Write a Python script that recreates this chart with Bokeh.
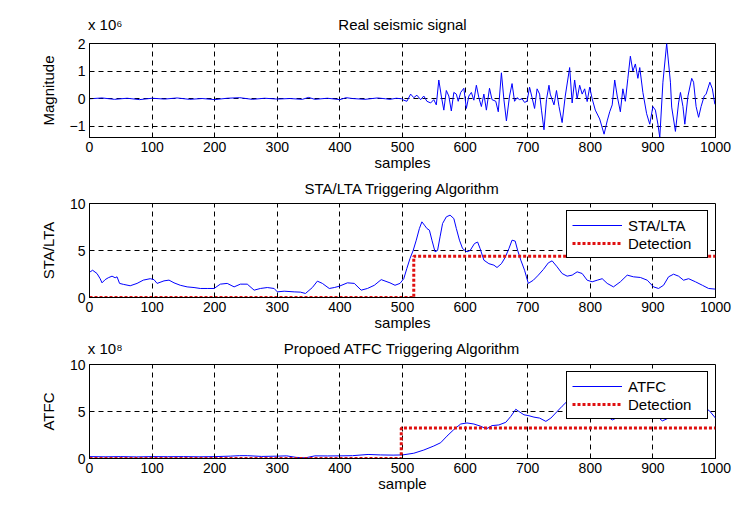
from bokeh.plotting import figure
from bokeh.layouts import column
from bokeh.models import Range1d, Legend, LegendItem, FixedTicker, LinearAxis
from bokeh.embed import file_html
from bokeh.resources import INLINE

FONT = "Liberation Sans"

# ---------------- data ----------------
# Panel 1: real seismic signal (values in units of 1e6)
sig_x = [0, 20, 40, 60, 80, 100, 120, 140, 160, 180, 200, 220, 240, 260, 280, 300,
         320, 340, 350, 360, 380, 400, 410, 420, 440, 460, 473, 480, 490, 499,
         502, 507, 513, 518, 523, 529, 534, 539, 545, 550, 554, 558, 562, 566, 570,
         574, 578, 582, 586, 589, 593, 598, 602, 606, 610, 614, 618, 622, 626, 630,
         634, 639, 643, 649, 653, 658, 662, 666, 671, 675, 679, 683, 687, 691, 695,
         699, 703, 707, 711, 715, 719, 722, 726, 730, 734,
         736, 742, 746, 750, 755, 760, 767, 771, 775, 779, 783, 787, 791, 795, 799,
         803, 808, 815, 822, 827, 831, 835, 839, 843, 848, 852, 856, 860, 864, 868,
         872, 876, 879, 884, 890, 895, 900, 904, 908, 911, 916, 922, 928, 930, 936,
         941, 944, 948, 951, 956, 962, 965, 969, 973, 977, 982, 985, 991, 995, 999]
sig_y = [0.0, 0.03, -0.02, 0.02, -0.03, 0.02, -0.01, 0.03, -0.02, 0.01, -0.03, 0.02,
         0.04, -0.02, 0.02, -0.01, 0.01, -0.02, 0.05, -0.02, 0.02, -0.03, 0.04, 0.01,
         -0.02, 0.03, 0.0, -0.02, 0.02, 0.0,
         -0.05, -0.09, 0.17, 0.04, 0.13, -0.03, 0.1, -0.09, -0.15, -0.03, -0.22, 0.68,
         0.1, -0.41, 0.3, 0.1, -0.44, 0.23, 0.17, -0.09, 0.23, 0.38, -0.35, 0.1, 0.23,
         -0.05, 0.49, 0.04, -0.28, 0.17, -0.41, 0.38, -0.03, -0.09, -0.47, 0.94, -0.03,
         -0.8, 0.1, 0.55, -0.09, 0.04, -0.03, 0.0, -0.13, -0.09, 0.42, 0.04, -0.35,
         0.36, 0.17, -0.41, -1.12, -0.03, 0.49,
         0.17, -0.22, 0.3, -0.28, -0.86, 0.1, 1.13, -0.15, 0.68, 0.0, 0.49, 0.17, 0.36,
         -0.1, 0.42, 0.0, -0.41, -0.73, -1.28, -0.8, -0.47, -0.22, 0.68, 0.1, -0.47,
         0.36, -0.09, 0.74, 1.54, 1.0, 1.26, 0.74, 1.13, 0.23, -0.54, -0.92, -0.28,
         -0.41, -0.92, -1.4, 0.6, 2.0, 0.6, -0.3, -1.18, -0.15, 0.23, -0.28, -0.92,
         0.1, 0.74, 0.6, -0.28, -0.67, -0.28, 0.1, 0.17, 0.6, 0.36, -0.2]

# Panel 2: STA/LTA ratio
sta_x = [1, 5, 12, 17, 20, 25, 30, 36, 41, 44, 48, 54, 65, 76, 86, 97, 103, 108,
         119, 127, 135, 145, 156, 167, 177, 188, 199, 209, 220, 231, 241, 252, 263,
         273, 284, 295, 300, 311, 327, 337, 345, 356, 364, 372, 383, 391, 399, 412,
         423, 434, 444, 455, 466, 480, 488, 496, 502, 507, 512, 517, 522, 527, 531,
         535, 539, 543, 547, 552, 556, 560, 564, 570, 576, 582, 586, 591, 596, 603,
         608, 615, 620, 624, 630, 638, 646, 651, 658, 664, 670, 675, 680, 684, 689,
         695, 698, 701, 709, 717, 725, 733, 739, 747, 755, 763, 771, 779, 787, 795,
         803, 811, 819, 827, 837, 848, 859, 869, 880, 891, 901, 909, 917, 925, 933,
         941, 949, 957, 968, 979, 989, 1000]
sta_y = [2.73, 2.9, 2.55, 2.0, 1.56, 1.9, 2.1, 2.27, 2.1, 2.2, 1.5, 1.4, 1.25, 1.5,
         1.85, 2.0, 1.9, 1.5, 1.77, 1.85, 1.56, 1.3, 1.13, 1.06, 0.96, 0.96, 0.96,
         1.42, 1.5, 1.13, 1.42, 1.42, 0.78, 0.96, 1.06, 0.96, 0.6, 0.67, 0.6, 0.57,
         0.43, 1.06, 1.74, 1.5, 0.96, 1.06, 1.2, 1.56, 1.5, 0.78, 0.96, 1.3, 1.9,
         1.56, 1.3, 1.5, 2.0, 3.1, 4.15, 5.0, 6.1, 7.34, 8.05, 7.7, 7.34, 7.16, 6.1,
         4.86, 5.0, 6.45, 7.87, 8.58, 8.76, 8.4, 7.34, 6.1, 5.2, 4.86, 5.0, 5.74, 5.9,
         5.2, 3.97, 3.6, 3.44, 3.19, 3.6, 4.26, 5.2, 6.1, 6.0, 5.0, 3.97, 2.9, 2.2,
         1.5, 1.84, 2.38, 2.98, 3.69, 3.9, 3.26, 2.55, 2.27, 2.38, 2.73, 2.55, 1.84,
         1.67, 1.84, 2.0, 1.5, 1.13, 1.67, 2.38, 2.2, 2.13, 1.84, 1.13, 0.96, 1.3,
         2.2, 2.48, 2.27, 1.84, 2.0, 1.67, 1.3, 0.96, 0.89]
sta_det_x = [0, 518, 518, 1000]
sta_det_y = [0, 0, 4.4, 4.4]

# Panel 3: ATFC (values in units of 1e8)
atfc_x = [0, 25, 50, 75, 100, 125, 150, 175, 200, 225, 240, 252, 275, 300, 315,
          330, 345, 360, 380, 400, 420, 445, 465, 485, 500, 518, 534, 550, 561, 571,
          582, 593, 603, 614, 625, 634, 643, 654, 665, 673, 681, 686, 694, 702, 710,
          719, 729, 737, 747, 755, 763, 770, 790, 810, 825, 835, 845, 860, 875, 890,
          905, 915, 925, 940, 960, 975, 990, 1000]
atfc_y = [0.2, 0.18, 0.2, 0.17, 0.2, 0.19, 0.2, 0.18, 0.2, 0.25, 0.3, 0.3, 0.22,
          0.25, 0.28, 0.12, 0.07, 0.28, 0.27, 0.28, 0.3, 0.43, 0.38, 0.36, 0.38,
          0.56, 0.9, 1.33, 1.68, 2.38, 3.08, 3.67, 3.78, 3.67, 3.43, 3.15, 3.5, 3.57,
          3.85, 4.48, 5.24, 5.0, 4.65, 4.55, 4.4, 4.3, 3.95, 4.3, 5.0, 5.56, 6.08,
          6.3, 5.8, 5.2, 4.6, 4.1, 4.4, 5.4, 5.8, 5.3, 4.6, 4.0, 4.3, 5.0, 5.5, 5.6,
          5.1, 4.3]
atfc_det_x = [0, 498, 498, 1000]
atfc_det_y = [0, 0, 3.25, 3.25]

x_ticks = [0, 100, 200, 300, 400, 500, 600, 700, 800, 900, 1000]

BLUE = "#0000FF"
RED = "#E01010"


def make_fig(ylim, yticks, title, exponent, xlabel, ylabel, top, bottom, title_standoff):
    p = figure(frame_width=626, frame_height=94,
               x_range=Range1d(0, 1000), y_range=Range1d(*ylim),
               output_backend="svg", toolbar_location=None,
               min_border_left=89, min_border_right=20,
               min_border_top=top, min_border_bottom=bottom)
    p.background_fill_color = "white"
    p.border_fill_color = "white"
    p.outline_line_color = "black"
    p.outline_line_alpha = 1
    p.outline_line_width = 1

    xt = FixedTicker(ticks=x_ticks)
    yt = FixedTicker(ticks=yticks)
    p.xaxis.ticker = xt
    p.yaxis.ticker = yt
    p.xgrid.ticker = xt
    p.ygrid.ticker = yt
    for ax in (p.xaxis[0], p.yaxis[0]):
        ax.major_tick_in = 4
        ax.major_tick_out = 0
        ax.minor_tick_in = 0
        ax.minor_tick_out = 0
        ax.axis_line_color = "black"
        ax.major_tick_line_color = "black"
        ax.major_label_text_font = FONT
        ax.major_label_text_font_size = "14px"
        ax.major_label_text_color = "black"
        ax.axis_label_text_font = FONT
        ax.axis_label_text_font_size = "15px"
        ax.axis_label_text_font_style = "normal"
        ax.axis_label_text_color = "black"
    p.xaxis.axis_label = xlabel
    p.yaxis.axis_label = ylabel
    p.xaxis.major_label_standoff = 4
    p.xaxis.axis_label_standoff = -1
    p.yaxis.major_label_standoff = 4
    p.yaxis.axis_label_standoff = 10
    for g in (p.xgrid[0], p.ygrid[0]):
        g.grid_line_color = "black"
        g.grid_line_alpha = 1
        g.grid_line_dash = "5 4"
        g.grid_line_width = 1

    # title (and the axis-scale exponent) written as labels of a bare axis above
    ticks = [500]
    overrides = {500: title}
    if exponent:
        ticks = [25, 500]
        overrides[25] = exponent
    top_ax = LinearAxis(ticker=FixedTicker(ticks=ticks), major_label_overrides=overrides)
    top_ax.axis_line_color = None
    top_ax.major_tick_line_color = None
    top_ax.minor_tick_line_color = None
    top_ax.major_tick_in = 0
    top_ax.major_tick_out = 0
    top_ax.major_label_standoff = title_standoff
    top_ax.major_label_text_font = FONT
    top_ax.major_label_text_font_size = "15px"
    top_ax.major_label_text_color = "black"
    p.add_layout(top_ax, "above")
    return p


def add_legend(p, items):
    leg = Legend(items=items, location="top_right")
    leg.margin = 7
    leg.padding = 5
    leg.spacing = 0
    leg.glyph_width = 50
    leg.glyph_height = 18
    leg.label_height = 18
    leg.label_width = 74
    leg.label_standoff = 6
    leg.label_text_font = FONT
    leg.label_text_font_size = "15px"
    leg.label_text_color = "black"
    leg.border_line_color = "black"
    leg.border_line_width = 1
    leg.border_line_alpha = 1
    leg.background_fill_color = "white"
    leg.background_fill_alpha = 1
    p.add_layout(leg)


# Panel 1
p1 = make_fig((-1.4, 2), [-1, 0, 1, 2], "Real seismic signal", "x 10\u2076",
              "samples", "Magnitude", 43, 39, 11)
p1.line(sig_x, sig_y, line_color=BLUE, line_width=1)

# Panel 2
p2 = make_fig((0, 10), [0, 5, 10], "STA/LTA Triggering Algorithm", None,
              "samples", "STA/LTA", 27, 39, 7)
r_sta = p2.line(sta_x, sta_y, line_color=BLUE, line_width=1)
r_sdet = p2.line(sta_det_x, sta_det_y, line_color=RED, line_width=3, line_dash="3 2")
add_legend(p2, [LegendItem(label="STA/LTA", renderers=[r_sta]),
                LegendItem(label="Detection", renderers=[r_sdet])])

# Panel 3
p3 = make_fig((0, 10), [0, 5, 10], "Propoed ATFC Triggering Algorithm", "x 10\u2078",
              "sample", "ATFC", 28, 55, 8)
r_atfc = p3.line(atfc_x, atfc_y, line_color=BLUE, line_width=1)
r_adet = p3.line(atfc_det_x, atfc_det_y, line_color=RED, line_width=3, line_dash="3 2")
add_legend(p3, [LegendItem(label="ATFC", renderers=[r_atfc]),
                LegendItem(label="Detection", renderers=[r_adet])])

layout = column(p1, p2, p3, spacing=0)
open("out.html", "w").write(file_html(layout, INLINE))
